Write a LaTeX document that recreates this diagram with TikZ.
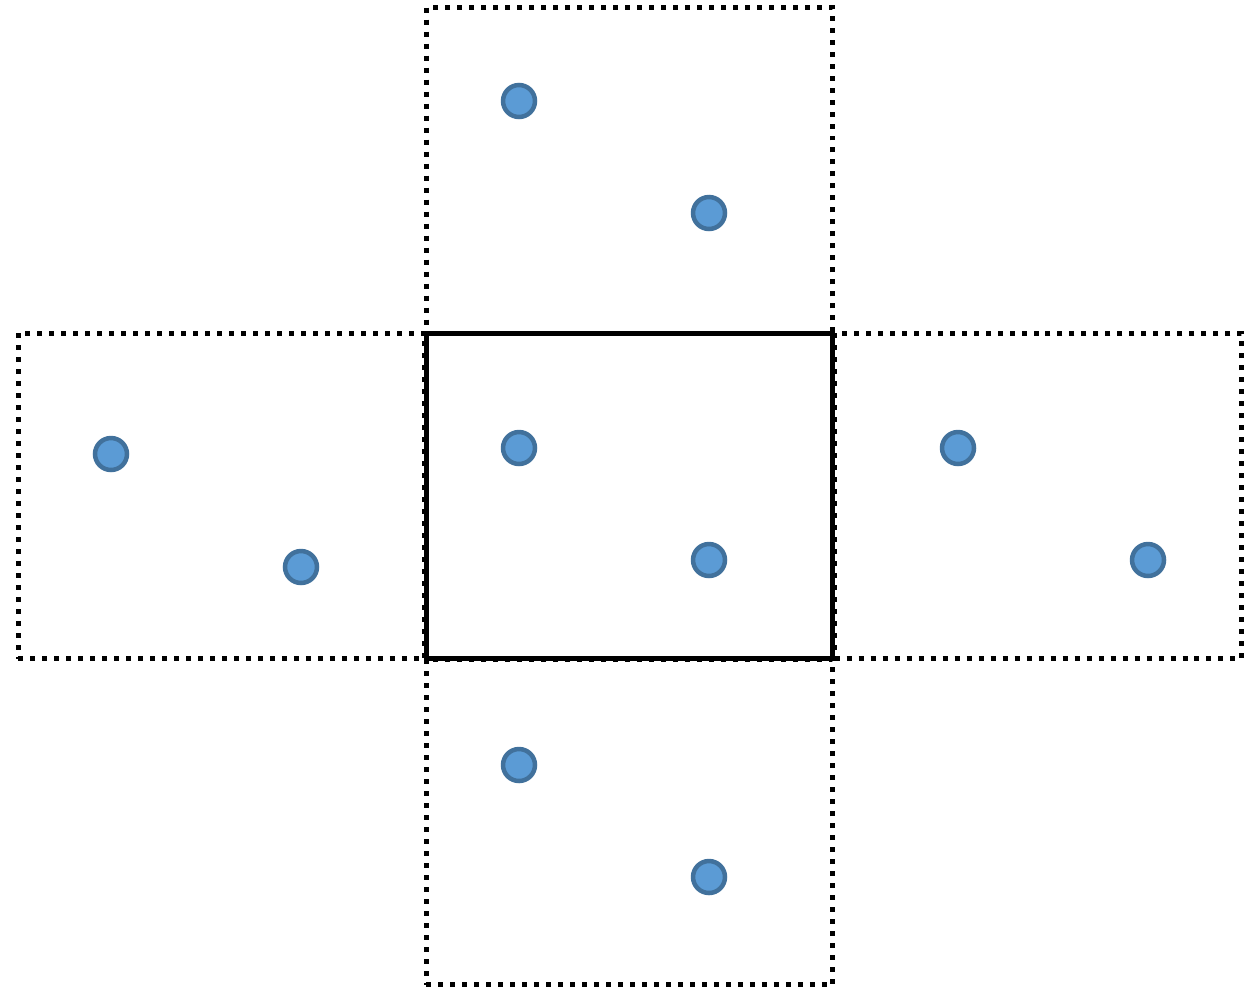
\documentclass[tikz,border=0pt]{standalone}
\usetikzlibrary{positioning}
\definecolor{dotfill}{HTML}{5B9BD5}
\definecolor{dotline}{HTML}{41719C}
\tikzset{
  cellbox/.style={draw, rectangle, minimum width=8.14cm, minimum height=6.52cm, inner sep=0pt},
  ghostbox/.style={cellbox, line width=0.1cm, dash pattern=on 0.1cm off 0.14cm},
  mainbox/.style={cellbox, line width=0.1cm},
  point/.style={circle, draw=dotline, fill=dotfill, line width=0.09cm, minimum size=0.64cm, inner sep=0pt}
}
\begin{document}
\begin{tikzpicture}[x=0.02cm, y=-0.02cm]
    \useasboundingbox (0,0) rectangle (1256,991);
    % Neighbour cells
    \node[ghostbox] (top) at (629.5, 170.5) {};
    \node[ghostbox] (bottom) at (629.5, 822) {};
    \node[ghostbox] (left) at (221.5, 496) {};
    \node[ghostbox] (right) at (1038, 496) {};
    
    % Central cell
    \node[mainbox] (centre) at (629.5, 496) {};
    
    % Points
    \foreach \name/\x/\y in {ta/519/101, tb/709/213, ca/519/448, cb/709/560,
                             la/111/454, lb/301/567, ra/958/448, rb/1148/560,
                             ba/519/765, bb/709/877} {
        \node[point] (\name) at (\x, \y) {};
    }
\end{tikzpicture}
\end{document}
